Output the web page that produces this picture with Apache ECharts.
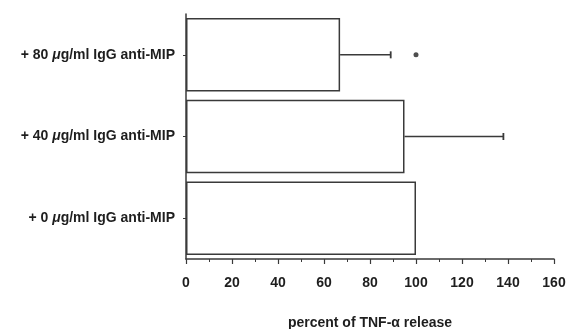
<!DOCTYPE html>
<html>
<head>
<meta charset="utf-8">
<script src="https://cdn.jsdelivr.net/npm/echarts@6/dist/echarts.min.js"></script>
<style>
  html, body { margin: 0; padding: 0; background: #fff; }
  #chart { width: 577px; height: 329px; }
</style>
</head>
<body>
<div id="chart"></div>
<script>
// bottom to top, as the category axis draws them
var doses = ['0', '40', '80'];
var meanRelease = [100, 95, 67];
var errorHigh = [null, 138, 89];   // end of the error whisker (control has none)
var significant = [false, false, true];
var sigMarkX = 100;
var xTicks = [0, 160, 20];          // min, max, interval

var lineColor = '#3a3a3a';
var textColor = '#1e1e1e';
var font = 'Liberation Sans, Arial, Helvetica, sans-serif';

var categories = doses.map(function (d) {
    return '{t|+ ' + d + ' }{mu|\u03bc}{t|g/ml IgG anti-MIP}';
});

var errorData = [];
meanRelease.forEach(function (m, i) {
    if (errorHigh[i] != null) errorData.push([m, errorHigh[i], i]);
});

var sigData = [];
significant.forEach(function (s, i) {
    if (s) sigData.push([sigMarkX, i]);
});

var chartDom = document.getElementById('chart');
var myChart = echarts.init(chartDom);
var option;

option = {
    animation: false,
    grid: {
        left: 186,
        right: 23,
        top: 14,
        bottom: 70,
        outerBoundsMode: 'none'
    },
    xAxis: {
        type: 'value',
        min: xTicks[0],
        max: xTicks[1],
        interval: xTicks[2],
        name: 'percent of TNF-\u03b1 release',
        nameLocation: 'middle',
        nameGap: 57,
        nameTextStyle: {
            color: textColor,
            fontFamily: font,
            fontWeight: 'bold',
            fontSize: 14
        },
        axisLine: { show: true, lineStyle: { color: lineColor, width: 1.5 } },
        axisTick: { show: true, length: 5, lineStyle: { color: lineColor, width: 1.2 } },
        minorTick: { show: true, splitNumber: 2, length: 3, lineStyle: { color: lineColor, width: 1 } },
        splitLine: { show: false },
        axisLabel: {
            margin: 17,
            color: textColor,
            fontFamily: font,
            fontWeight: 'bold',
            fontSize: 14
        }
    },
    yAxis: {
        type: 'category',
        data: categories,
        axisLine: { show: true, lineStyle: { color: lineColor, width: 1.5 } },
        axisTick: { show: true, alignWithLabel: true, length: 3, lineStyle: { color: lineColor } },
        axisLabel: {
            margin: 11,
            color: textColor,
            rich: {
                t: { fontFamily: font, fontWeight: 'bold', fontSize: 14, color: textColor },
                mu: { fontFamily: font, fontWeight: 'bold', fontStyle: 'italic', fontSize: 14, color: textColor }
            }
        }
    },
    series: [
        {
            type: 'bar',
            data: meanRelease,
            barCategoryGap: '10%',
            itemStyle: {
                color: '#fff',
                borderColor: lineColor,
                borderWidth: 1.5
            },
            z: 2
        },
        {
            type: 'custom',
            data: errorData,
            encode: { x: [0, 1], y: 2 },
            renderItem: function (params, api) {
                var cat = api.value(2);
                var p0 = api.coord([api.value(0), cat]);
                var p1 = api.coord([api.value(1), cat]);
                var capH = 3.5;
                return {
                    type: 'group',
                    children: [
                        {
                            type: 'line',
                            shape: { x1: p0[0], y1: p0[1], x2: p1[0], y2: p1[1] },
                            style: { stroke: lineColor, lineWidth: 1.5 }
                        },
                        {
                            type: 'line',
                            shape: { x1: p1[0], y1: p1[1] - capH, x2: p1[0], y2: p1[1] + capH },
                            style: { stroke: lineColor, lineWidth: 1.8 }
                        }
                    ]
                };
            },
            z: 3
        },
        {
            type: 'scatter',
            data: sigData,
            symbol: 'circle',
            symbolSize: 5,
            itemStyle: { color: '#222' },
            z: 4
        }
    ]
};
option && myChart.setOption(option);
</script>
</body>
</html>
